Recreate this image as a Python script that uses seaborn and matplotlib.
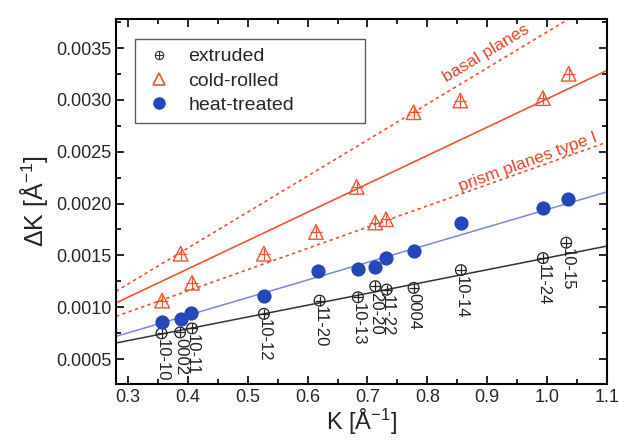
import numpy as np
import pandas as pd
import matplotlib
matplotlib.use("Agg")
import matplotlib.pyplot as plt
from matplotlib.lines import Line2D
from matplotlib.ticker import MultipleLocator
import seaborn as sns

# ---- data ----
reflections = ['10-10', '0002', '10-11', '10-12', '11-20', '10-13',
               '20-20', '11-22', '0004', '10-14', '11-24', '10-15']
K = [0.356, 0.387, 0.407, 0.527, 0.620, 0.684, 0.713, 0.732, 0.777, 0.856, 0.993, 1.032]
K_heat = [0.357, 0.388, 0.406, 0.527, 0.618, 0.684, 0.713, 0.731, 0.777, 0.856, 0.993, 1.035]
K_cold = [0.357, 0.388, 0.407, 0.527, 0.614, 0.682, 0.713, 0.731, 0.777, 0.855, 0.993, 1.036]

dK_extruded = [0.000748, 0.000757, 0.000796, 0.000936, 0.001064, 0.001096,
               0.001203, 0.001170, 0.001187, 0.001358, 0.001474, 0.001623]
dK_heat = [0.000854, 0.000887, 0.000948, 0.001110, 0.001348, 0.001367,
           0.001387, 0.001474, 0.001542, 0.001810, 0.001955, 0.002042]
dK_cold = [0.001064, 0.001516, 0.001236, 0.001516, 0.001726, 0.002161,
           0.001817, 0.001849, 0.002881, 0.002994, 0.003017, 0.003252]

# linear fits: (slope, intercept)
fit_extruded = (0.00114, 0.000336)
fit_heat = (0.00170, 0.000243)
fit_cold = (0.002734, 0.000276)
fit_basal = (0.003474, 0.000181)
fit_prism = (0.002048, 0.000339)

ext_df = pd.DataFrame({'K': K, 'dK': dK_extruded, 'hkl': reflections})
heat_df = pd.DataFrame({'K': K_heat, 'dK': dK_heat})
cold_df = pd.DataFrame({'K': K_cold, 'dK': dK_cold})

# ---- style ----
sns.set_style('ticks')
plt.rcParams['font.family'] = ['Liberation Sans', 'DejaVu Sans']
plt.rcParams['mathtext.default'] = 'regular'
plt.rcParams['xtick.direction'] = 'in'
plt.rcParams['ytick.direction'] = 'in'

red = '#ec5534'
red_txt = '#e0442a'
blue = '#2747b8'
blue_line = '#7d88d8'

fig = plt.figure(figsize=(6.19, 4.41), dpi=100)
ax = fig.add_axes([0.1874, 0.1293, 0.7932, 0.8276])

# fit lines
ax.axline((0, fit_extruded[1]), slope=fit_extruded[0], color='#333333', lw=1.1, zorder=1)
ax.axline((0, fit_heat[1]), slope=fit_heat[0], color=blue_line, lw=1.1, zorder=1)
ax.axline((0, fit_cold[1]), slope=fit_cold[0], color=red, lw=1.2, zorder=1)
ax.axline((0, fit_basal[1]), slope=fit_basal[0], color=red, lw=1.2, ls=(0, (2, 2)), zorder=1)
ax.axline((0, fit_prism[1]), slope=fit_prism[0], color=red, lw=1.2, ls=(0, (2, 2)), zorder=1)

# points
sns.scatterplot(data=ext_df, x='K', y='dK', marker='o', s=60, facecolor='none',
                edgecolor='#222222', linewidth=0.9, ax=ax, zorder=3)
sns.scatterplot(data=ext_df, x='K', y='dK', marker='+', s=60, color='#222222',
                linewidth=0.9, ax=ax, zorder=3)
sns.scatterplot(data=cold_df, x='K', y='dK', marker='^', s=110, facecolor='none',
                edgecolor=red, linewidth=1.0, ax=ax, zorder=3)
sns.scatterplot(data=cold_df, x='K', y='dK', marker='+', s=70, color=red,
                linewidth=0.9, ax=ax, zorder=3)
sns.scatterplot(data=heat_df, x='K', y='dK', marker='o', s=105, color=blue,
                edgecolor=blue, linewidth=0, ax=ax, zorder=4)

# reflection labels (neighbouring ones overlap in the original too)
for k, d, lab in zip(ext_df['K'], ext_df['dK'], ext_df['hkl']):
    ax.annotate(lab, (k, d), xytext=(0.5, -4), textcoords='offset points',
                rotation=270, ha='center', va='top', fontsize=12, color='#222222',
                zorder=5)

ax.text(0.898, 0.003446, 'basal planes', rotation=31, color=red_txt, fontsize=12.5,
        ha='center', va='center', rotation_mode='anchor')
ax.text(0.969, 0.00240, 'prism planes type I', rotation=20, color=red_txt, fontsize=12.5,
        ha='center', va='center', rotation_mode='anchor')

ax.set_xlim(0.28, 1.1)
ax.set_ylim(0.00026, 0.00378)
ax.xaxis.set_major_locator(MultipleLocator(0.1))
ax.xaxis.set_minor_locator(MultipleLocator(0.05))
ax.yaxis.set_major_locator(MultipleLocator(0.0005))
ax.yaxis.set_minor_locator(MultipleLocator(0.00025))
ax.xaxis.set_major_formatter(plt.FuncFormatter(lambda v, p: f'{v:.1f}'))
ax.yaxis.set_major_formatter(plt.FuncFormatter(lambda v, p: f'{v:.4f}'))
ax.tick_params(which='both', top=True, right=True, color='black', labelsize=13, width=1.2)
ax.tick_params(which='major', length=6)
ax.tick_params(which='minor', length=3.5)
for sp in ax.spines.values():
    sp.set_linewidth(1.5)
    sp.set_color('black')

ax.set_xlabel('K [Å$^{-1}$]', fontsize=17, labelpad=1)
ax.set_ylabel('ΔK [Å$^{-1}$]', fontsize=18, labelpad=4)

h_ext = (Line2D([], [], marker='o', ls='none', ms=6, mfc='none', mec='#333333', mew=0.8),
         Line2D([], [], marker='+', ls='none', ms=6, color='#333333', mew=0.8))
h_cold = Line2D([], [], marker='^', ls='none', ms=8, mfc='none', mec=red, mew=1.2)
h_heat = Line2D([], [], marker='o', ls='none', ms=8, color=blue)
leg = ax.legend([h_ext, h_cold, h_heat], ['extruded', 'cold-rolled', 'heat-treated'],
                loc='upper left', bbox_to_anchor=(0.0387, 0.715, 0.468, 0.23),
                mode='expand', fontsize=14, frameon=True, fancybox=False,
                edgecolor='#333333', handlelength=1.6, handletextpad=0.7,
                borderpad=0.45, labelspacing=0.35, borderaxespad=0)
leg.get_frame().set_linewidth(1.0)

fig.savefig('out.png', dpi=100)
